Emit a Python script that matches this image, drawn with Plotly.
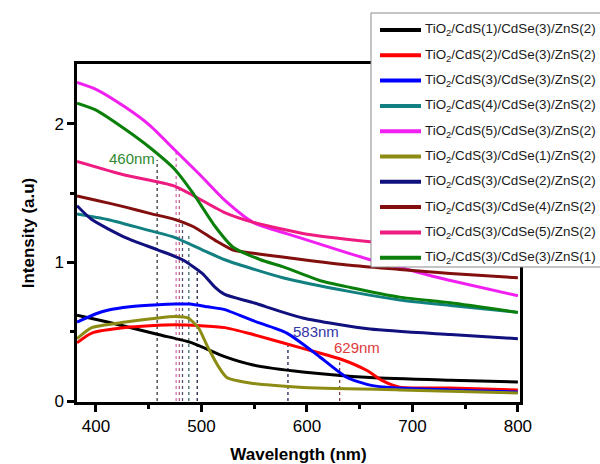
import plotly.graph_objects as go

# ---------------- data ----------------
labels = [
    "TiO<sub>2</sub>/CdS(1)/CdSe(3)/ZnS(2)",
    "TiO<sub>2</sub>/CdS(2)/CdSe(3)/ZnS(2)",
    "TiO<sub>2</sub>/CdS(3)/CdSe(3)/ZnS(2)",
    "TiO<sub>2</sub>/CdS(4)/CdSe(3)/ZnS(2)",
    "TiO<sub>2</sub>/CdS(5)/CdSe(3)/ZnS(2)",
    "TiO<sub>2</sub>/CdS(3)/CdSe(1)/ZnS(2)",
    "TiO<sub>2</sub>/CdS(3)/CdSe(2)/ZnS(2)",
    "TiO<sub>2</sub>/CdS(3)/CdSe(4)/ZnS(2)",
    "TiO<sub>2</sub>/CdS(3)/CdSe(5)/ZnS(2)",
    "TiO<sub>2</sub>/CdS(3)/CdSe(3)/ZnS(1)",
]
colors = ["#000000", "#ff0000", "#0000ff", "#128080", "#f020f0",
          "#8c8c14", "#10107e", "#820e0e", "#ee1c80", "#0a800a"]

x_cds1 = [382, 411, 459, 491, 522, 549, 596, 660, 736, 800]
y_cds1 = [0.62, 0.57, 0.48, 0.42, 0.32, 0.26, 0.21, 0.17, 0.15, 0.137]

x_cds2 = [382, 396, 428, 475, 522, 549, 596, 633, 657, 672, 688, 736, 800]
y_cds2 = [0.42, 0.49, 0.53, 0.55, 0.53, 0.48, 0.38, 0.30, 0.22, 0.145, 0.10, 0.094, 0.08]

x_cds3 = [382, 400, 411, 432, 459, 475, 489, 506, 522, 549, 581, 612, 638, 660, 682, 736, 800]
y_cds3 = [0.57, 0.63, 0.655, 0.68, 0.695, 0.70, 0.70, 0.68, 0.66, 0.58, 0.49, 0.32, 0.17, 0.115, 0.095, 0.08, 0.065]

x_cds4 = [382, 411, 451, 475, 501, 522, 546, 577, 641, 688, 736, 800]
y_cds4 = [1.35, 1.31, 1.23, 1.18, 1.09, 1.02, 0.96, 0.89, 0.79, 0.73, 0.69, 0.64]

x_cds5 = [382, 400, 428, 451, 475, 499, 522, 549, 593, 660, 705, 736, 800]
y_cds5 = [2.30, 2.25, 2.12, 1.99, 1.81, 1.63, 1.45, 1.29, 1.18, 1.02, 0.93, 0.87, 0.76]

x_cdse1 = [382, 396, 428, 459, 475, 487, 497, 506, 516, 524, 546, 593, 688, 800]
y_cdse1 = [0.45, 0.53, 0.57, 0.60, 0.61, 0.60, 0.53, 0.39, 0.25, 0.17, 0.13, 0.10, 0.08, 0.058]

x_cdse2 = [382, 396, 428, 459, 482, 501, 513, 522, 549, 596, 660, 736, 800]
y_cdse2 = [1.41, 1.31, 1.18, 1.09, 1.02, 0.92, 0.82, 0.77, 0.71, 0.60, 0.52, 0.48, 0.45]

x_cdse4 = [382, 400, 428, 451, 475, 492, 513, 530, 556, 577, 641, 688, 736, 800]
y_cdse4 = [1.48, 1.45, 1.40, 1.355, 1.31, 1.26, 1.16, 1.09, 1.06, 1.04, 0.98, 0.95, 0.92, 0.89]

x_cdse5 = [382, 428, 475, 522, 549, 596, 660, 730, 800]
y_cdse5 = [1.73, 1.63, 1.55, 1.36, 1.29, 1.21, 1.15, 1.10, 1.05]

x_zns1 = [382, 400, 428, 451, 475, 492, 513, 530, 556, 577, 612, 641, 688, 736, 800]
y_zns1 = [2.15, 2.10, 1.96, 1.83, 1.67, 1.50, 1.26, 1.11, 1.02, 0.97, 0.87, 0.82, 0.75, 0.71, 0.64]

series_x = [x_cds1, x_cds2, x_cds3, x_cds4, x_cds5, x_cdse1, x_cdse2, x_cdse4, x_cdse5, x_zns1]
series_y = [y_cds1, y_cds2, y_cds3, y_cds4, y_cds5, y_cdse1, y_cdse2, y_cdse4, y_cdse5, y_zns1]

# band-edge marker lines: wavelength, top intensity, colour
marker_x = [458, 476, 479, 482, 488, 496, 582, 631]
marker_top = [1.74, 1.82, 1.55, 1.30, 1.20, 0.95, 0.40, 0.28]
marker_colors = ["#3a3a3a", "#d070b0", "#c06080", "#505070", "#407070", "#202040", "#202060", "#804040"]

note_text = ["460nm", "583nm", "629nm"]
note_x = [410, 585, 624]
note_y = [1.75, 0.505, 0.39]
note_colors = ["#2f8a2f", "#3535a5", "#e03a3a"]

# ---------------- layout geometry (pixels of the 600x464 page) ----------------
W, H = 600, 464
ML, MR, MT, MB = 77, 80, 64, 62
PW, PH = W - ML - MR, H - MT - MB


def px_to_paper_x(px):
    return (px - ML) / PW


def py_to_paper_y(py):
    return (H - MB - py) / PH


# ---------------- figure ----------------
fig = go.Figure()

for mx, mt, mc in zip(marker_x, marker_top, marker_colors):
    fig.add_trace(go.Scatter(x=[mx, mx], y=[0, mt], mode="lines",
                             line=dict(color=mc, width=1.3, dash="dot"),
                             showlegend=False, hoverinfo="skip"))

for i, (xs, ys) in enumerate(zip(series_x, series_y)):
    fig.add_trace(go.Scatter(x=xs, y=ys, mode="lines", name=labels[i],
                             showlegend=False,
                             line=dict(color=colors[i], width=3, shape="spline", smoothing=0.6)))

for t, tx, ty, tc in zip(note_text, note_x, note_y, note_colors):
    fig.add_annotation(x=tx, y=ty, text=t, showarrow=False, xanchor="left",
                       yanchor="middle", font=dict(size=15, color=tc,
                       family="Liberation Sans, Arial, sans-serif"))

# legend box (drawn as layout shapes / annotations so it can run off the page edge)
leg_left, leg_top, leg_bottom, leg_right = 371, 13, 267, 640
first_row, row_gap = 30, 25.3
fig.add_shape(type="rect", xref="paper", yref="paper", layer="above",
              x0=px_to_paper_x(leg_left), x1=px_to_paper_x(leg_right),
              y0=py_to_paper_y(leg_bottom), y1=py_to_paper_y(leg_top),
              fillcolor="white", line=dict(color="#8a8a8a", width=1))
for i, lab in enumerate(labels):
    ry = py_to_paper_y(first_row + row_gap * i)
    fig.add_shape(type="line", xref="paper", yref="paper", layer="above",
                  x0=px_to_paper_x(380), x1=px_to_paper_x(421), y0=ry, y1=ry,
                  line=dict(color=colors[i], width=4))
    fig.add_annotation(xref="paper", yref="paper", x=px_to_paper_x(423), y=ry,
                       text=lab, showarrow=False, xanchor="left", yanchor="middle",
                       font=dict(size=13.4, color="#1a1a1a",
                                 family="Liberation Sans, Arial, sans-serif"))

axis_font = dict(family="Liberation Sans, Arial, sans-serif", size=17, color="black")

fig.update_xaxes(range=[382, 802], tickmode="linear", tick0=400, dtick=100,
                 ticks="outside", ticklen=7, tickwidth=2.5, tickcolor="black",
                 minor=dict(dtick=50, tick0=400, ticks="outside", ticklen=4,
                            tickwidth=2.5, tickcolor="black"),
                 showline=True, linewidth=2.5, linecolor="black", mirror=True,
                 showgrid=False, zeroline=False, tickfont=axis_font,
                 title=dict(text="<b>Wavelength (nm)</b>", font=axis_font, standoff=14))
fig.update_yaxes(range=[-0.007, 2.433], tickmode="linear", tick0=0, dtick=1,
                 ticks="outside", ticklen=7, tickwidth=2.5, tickcolor="black",
                 minor=dict(dtick=0.5, tick0=0, ticks="outside", ticklen=4,
                            tickwidth=2.5, tickcolor="black"),
                 showline=True, linewidth=2.5, linecolor="black", mirror=True,
                 showgrid=False, zeroline=False, tickfont=axis_font,
                 title=dict(text="<b>Intensity (a.u)</b>", font=axis_font, standoff=16))

fig.update_layout(
    width=W, height=H,
    margin=dict(l=ML, r=MR, t=MT, b=MB, autoexpand=False),
    paper_bgcolor="white", plot_bgcolor="white",
    font=dict(family="Liberation Sans, Arial, sans-serif", color="black"),
    showlegend=False,
)

fig.write_html("out.html")
